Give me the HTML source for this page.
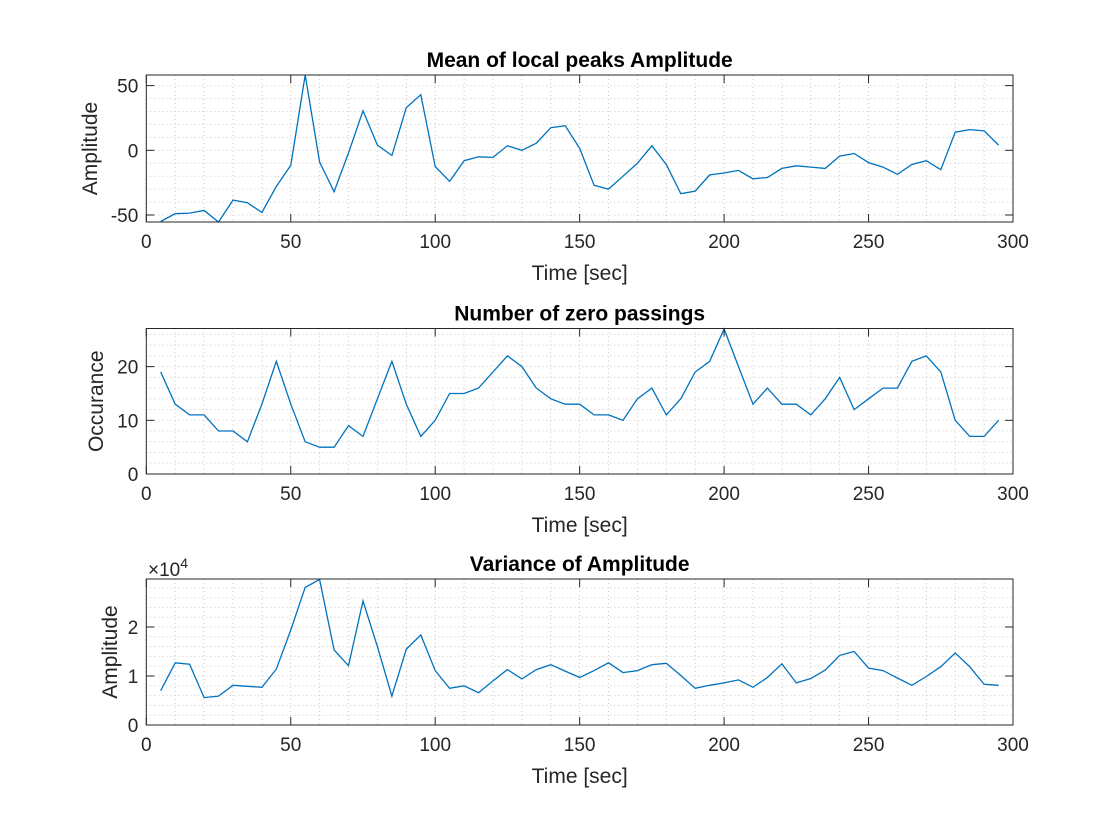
<!DOCTYPE html>
<html><head><meta charset="utf-8"><style>
body{margin:0;background:#fff;}
svg{display:block;font-family:"Liberation Sans",sans-serif;}
</style></head><body>
<svg id="fig" width="1120" height="840" viewBox="0 0 1120 840" xmlns="http://www.w3.org/2000/svg">
<rect width="1120" height="840" fill="#fff"/>
</svg>
<script>
const times = [5,10,15,20,25,30,35,40,45,50,55,60,65,70,75,80,85,90,95,100,105,110,115,120,125,130,135,140,145,150,155,160,165,170,175,180,185,190,195,200,205,210,215,220,225,230,235,240,245,250,255,260,265,270,275,280,285,290,295];
const meanPeaks = [-55,-49,-48.5,-46.5,-56,-38.5,-40.5,-48,-28,-11.5,59,-9,-32,-2,30.5,4,-4,33,43,-12.5,-24,-8,-5,-5.5,3.5,0,5.5,17.5,19,1.5,-27,-30,-20,-10,3.5,-11,-33.5,-31.5,-19,-17.5,-15.5,-22,-21,-14,-12,-13,-14,-4.5,-2.5,-9.5,-13,-18.5,-11,-8,-15,14,16,15,4];
const zeroPassings = [19,13,11,11,8,8,6,13,21,13,6,5,5,9,7,14,21,13,7,10,15,15,16,19,22,20,16,14,13,13,11,11,10,14,16,11,14,19,21,27,20,13,16,13,13,11,14,18,12,14,16,16,21,22,19,10,7,7,10];
const variance = [0.7,1.27,1.24,0.56,0.59,0.81,0.79,0.77,1.14,1.94,2.81,2.97,1.53,1.21,2.53,1.6,0.59,1.55,1.84,1.11,0.75,0.8,0.66,0.9,1.13,0.94,1.13,1.23,1.1,0.97,1.11,1.27,1.07,1.11,1.23,1.26,1.01,0.75,0.81,0.86,0.92,0.77,0.97,1.25,0.86,0.95,1.12,1.42,1.5,1.16,1.11,0.96,0.81,0.99,1.19,1.47,1.19,0.83,0.81];
const xTicks = [0,50,100,150,200,250,300];
const yTicks1 = [-50,0,50];
const yTicks2 = [0,10,20];
const yTicks3 = [0,1,2];

const NS="http://www.w3.org/2000/svg";
const svg=document.getElementById('fig');
function mk(tag,attrs,parent){const e=document.createElementNS(NS,tag);for(const k in attrs)e.setAttribute(k,attrs[k]);(parent||svg).appendChild(e);return e;}
const X0=146.3,X1=1013;
function xs(v){return X0+(v-0)/(300-0)*(X1-X0);}

function panel(cfg){
  const g=mk('g',{});
  
  
  const ys=v=>cfg.bot-(v-cfg.ymin)/(cfg.ymax-cfg.ymin)*(cfg.bot-cfg.top);
  // minor grid
  for(let v=0;v<=300;v+=10){const l=mk('line',{x1:xs(v),x2:xs(v),y1:cfg.top,y2:cfg.bot,stroke:'#c8c8c8','stroke-width':1,'stroke-dasharray':'1 3'},g);
    }
  for(let v=Math.ceil(cfg.ymin/cfg.minor)*cfg.minor;v<=cfg.ymax;v+=cfg.minor){const l=mk('line',{x1:X0,x2:X1,y1:ys(v),y2:ys(v),stroke:'#c8c8c8','stroke-width':1,'stroke-dasharray':'1 3'},g);
    }
  // series
  const pts=times.map((t,i)=>xs(t).toFixed(1)+','+ys(Math.min(cfg.ymax,Math.max(cfg.ymin,cfg.data[i]))).toFixed(1)).join(' ');
  const pl=mk('polyline',{points:pts,fill:'none',stroke:'#0072BD','stroke-width':1.3},g);
  
  // box
  const b=mk('rect',{x:X0,y:cfg.top,width:X1-X0,height:cfg.bot-cfg.top,fill:'none',stroke:'#262626','stroke-width':1},g);
  
  // x ticks
  xTicks.forEach(v=>{
    mk('line',{x1:xs(v),x2:xs(v),y1:cfg.bot,y2:cfg.bot-8,stroke:'#262626'},g);
    mk('line',{x1:xs(v),x2:xs(v),y1:cfg.top,y2:cfg.top+8,stroke:'#262626'},g);
    const t=mk('text',{x:xs(v),y:cfg.bot+26,'text-anchor':'middle','font-size':19,fill:'#262626'},g);t.textContent=v;
    
  });
  cfg.yt.forEach(v=>{
    mk('line',{x1:X0,x2:X0+8,y1:ys(v),y2:ys(v),stroke:'#262626'},g);
    mk('line',{x1:X1,x2:X1-8,y1:ys(v),y2:ys(v),stroke:'#262626'},g);
    const t=mk('text',{x:X0-8,y:ys(v)+7,'text-anchor':'end','font-size':19,fill:'#262626'},g);t.textContent=v;
    
  });
  const xl=mk('text',{x:(X0+X1)/2,y:cfg.bot+58,'text-anchor':'middle','font-size':21,fill:'#262626'},g);xl.textContent='Time [sec]';
  
  const yc=(cfg.top+cfg.bot)/2;
  const yl=mk('text',{x:cfg.ylx,y:yc,'text-anchor':'middle','font-size':21,fill:'#262626',transform:`rotate(-90 ${cfg.ylx} ${yc})`},g);yl.textContent=cfg.ylabel;
  
  const ti=mk('text',{x:(X0+X1)/2,y:cfg.top-8,'text-anchor':'middle','font-size':21,'font-weight':'bold',fill:'#000'},g);ti.textContent=cfg.title;
  
  return g;
}
panel({name:'mean-peaks-panel',top:75,bot:222,ymin:-55.4,ymax:58.2,minor:10,data:meanPeaks,yt:yTicks1,ylabel:'Amplitude',ylx:97,title:'Mean of local peaks Amplitude'});
panel({name:'zero-passings-panel',top:328.5,bot:474,ymin:0,ymax:27.1,minor:2,data:zeroPassings,yt:yTicks2,ylabel:'Occurance',ylx:103,title:'Number of zero passings'});
panel({name:'variance-panel',top:579,bot:725,ymin:0,ymax:2.98,minor:0.2,data:variance,yt:yTicks3,ylabel:'Amplitude',ylx:117,title:'Variance of Amplitude'});
const ex=mk('text',{x:148,y:576,'font-size':19,fill:'#262626'});


ex.innerHTML='×10<tspan dy="-8" font-size="14">4</tspan>';
</script>
</body></html>
